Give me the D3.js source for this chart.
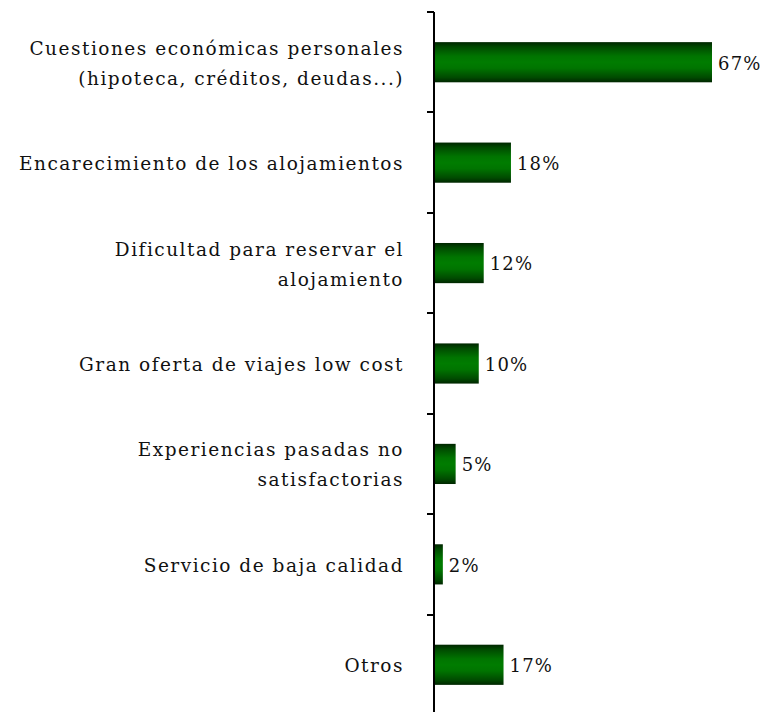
<!DOCTYPE html>
<html><head><meta charset="utf-8">
<script src="https://cdn.jsdelivr.net/npm/d3@7"></script>
<style>body{margin:0;background:#fff}</style>
</head><body>
<svg id="c" width="767" height="712"></svg>
<script>
const categories = [
  ["Cuestiones económicas personales", "(hipoteca, créditos, deudas...)"],
  ["Encarecimiento de los alojamientos"],
  ["Dificultad para reservar el", "alojamiento"],
  ["Gran oferta de viajes low cost"],
  ["Experiencias pasadas no", "satisfactorias"],
  ["Servicio de baja calidad"],
  ["Otros"]
];
const values = [67.1, 18.4, 11.8, 10.6, 5.0, 1.9, 16.6];
const valueLabels = ["67%", "18%", "12%", "10%", "5%", "2%", "17%"];

(function () {
const svg = d3.select("#c");
const x0 = 434, yTop = 12, yBottom = 715;
const x = d3.scaleLinear().domain([0, 67.1]).range([x0 + 1, 712]);
const y = d3.scaleBand().domain(d3.range(values.length)).range([yTop, yBottom]).paddingInner(0.6).paddingOuter(0.3);
const yb = d3.scaleBand().domain(d3.range(values.length)).range([yTop, yBottom]);

const defs = svg.append("defs");
const g = defs.append("linearGradient").attr("id", "gr").attr("x1", 0).attr("x2", 0).attr("y1", 0).attr("y2", 1);
[[0, "#002600"], [0.12, "#004a00"], [0.35, "#007400"], [0.5, "#007c00"], [0.65, "#007400"], [0.88, "#004a00"], [1, "#002600"]]
  .forEach(([o, c]) => g.append("stop").attr("offset", o).attr("stop-color", c));

svg.selectAll("rect.bar").data(values).join("rect").attr("class", "bar")
  .attr("x", x(0)).attr("y", (d, i) => y(i)).attr("height", y.bandwidth())
  .attr("width", d => x(d) - x(0)).attr("fill", "url(#gr)");

svg.append("line").attr("x1", x0).attr("x2", x0).attr("y1", yTop).attr("y2", 712).attr("stroke", "#000").attr("stroke-width", 2);
svg.selectAll("line.tick").data(d3.range(values.length)).join("line").attr("class", "tick")
  .attr("x1", x0 - 7).attr("x2", x0).attr("y1", i => Math.round(yb(i))).attr("y2", i => Math.round(yb(i)))
  .attr("stroke", "#000").attr("stroke-width", 2);

const font = "'DejaVu Serif', serif";
svg.selectAll("text.val").data(values).join("text").attr("class", "val")
  .attr("x", d => x(d) + 6).attr("y", (d, i) => y(i) + y.bandwidth() / 2 + 1).attr("dy", "0.35em")
  .attr("font-family", font).attr("font-size", 18).attr("letter-spacing", 1.2).attr("fill", "#111").text((d, i) => valueLabels[i]);

categories.forEach((lines, i) => {
  const cy = yb(i) + yb.bandwidth() / 2 + 1;
  const lh = 30;
  const t = svg.append("text").attr("text-anchor", "end").attr("font-family", font).attr("font-size", 18.5)
    .attr("letter-spacing", 1.5).attr("fill", "#111");
  lines.forEach((l, j) => {
    t.append("tspan").attr("x", 404).attr("y", cy + (j - (lines.length - 1) / 2) * lh).attr("dy", "0.35em").text(l);
  });
});
})();
</script>
</body></html>
